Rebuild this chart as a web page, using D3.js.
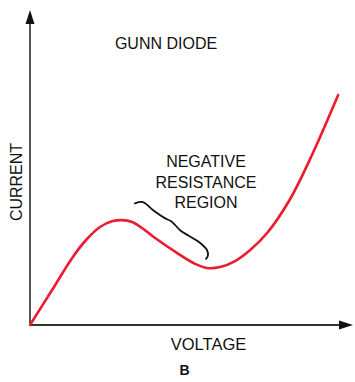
<!DOCTYPE html>
<html>
<head>
<meta charset="utf-8">
<script src="https://cdn.jsdelivr.net/npm/d3@7"></script>
<style>
  html, body { margin: 0; padding: 0; background: #fff; }
  svg { display: block; }
  text { font-family: "Liberation Sans", Arial, Helvetica, sans-serif; fill: #111; }
</style>
</head>
<body>
<svg id="chart" width="355" height="382"></svg>
<script>
// Gunn diode I–V characteristic (arbitrary units)
const voltage = [0, 0.69, 1.34, 1.78, 2.19, 2.56, 2.88, 3.19, 3.50, 3.91, 4.59, 5.16, 5.53, 5.94, 6.41, 6.88, 7.41, 8.13, 8.84, 9.63];
const current = [0, 1.11, 2.16, 2.73, 3.11, 3.29, 3.33, 3.27, 3.08, 2.76, 2.29, 1.94, 1.81, 1.84, 2.03, 2.38, 2.92, 4.00, 5.46, 7.30];

// Bracket marking the negative-resistance span (same units)
const braceV = [3.28, 3.53, 3.84, 4.2, 4.4, 4.53, 4.7, 4.95, 5.3, 5.53, 5.56, 5.5];
const braceI = [3.86, 3.9, 3.65, 3.4, 3.3, 3.18, 3.0, 2.84, 2.62, 2.38, 2.2, 2.1];

const titleText = "GUNN DIODE";
const regionLines = ["NEGATIVE", "RESISTANCE", "REGION"];
const xLabel = "VOLTAGE";
const yLabel = "CURRENT";
const panelLabel = "B";

const svg = d3.select("#chart");
const x = d3.scaleLinear().domain([0, 10]).range([30, 350]);
const y = d3.scaleLinear().domain([0, 10]).range([325, 10]);

// Axes with arrowheads
const axisG = svg.append("g");
axisG.append("line")
  .attr("x1", x(0)).attr("y1", y(0)).attr("x2", x(0)).attr("y2", 22)
  .attr("stroke", "#444").attr("stroke-width", 1.8);
axisG.append("line")
  .attr("x1", x(0)).attr("y1", y(0)).attr("x2", 342).attr("y2", y(0))
  .attr("stroke", "#2f3a2c").attr("stroke-width", 1.8);
axisG.append("path")
  .attr("d", `M${x(0)},10 L${x(0) - 4.5},24 L${x(0) + 4.5},24 Z`)
  .attr("fill", "#111");
axisG.append("path")
  .attr("d", `M353,${y(0)} L339,${y(0) - 4.5} L339,${y(0) + 4.5} Z`)
  .attr("fill", "#111");

// Characteristic curve
const line = d3.line()
  .x((d, i) => x(voltage[i]))
  .y((d, i) => y(current[i]))
  .curve(d3.curveCatmullRom.alpha(0.5));
svg.append("path")
  .datum(voltage)
  .attr("d", line)
  .attr("fill", "none")
  .attr("stroke", "#ec1b2e")
  .attr("stroke-width", 2.6)
  .attr("stroke-linecap", "round");

// Curly bracket
const braceLine = d3.line()
  .x((d, i) => x(braceV[i]))
  .y((d, i) => y(braceI[i]))
  .curve(d3.curveCatmullRom.alpha(0.5));
svg.append("path")
  .datum(braceV)
  .attr("d", braceLine)
  .attr("fill", "none")
  .attr("stroke", "#111")
  .attr("stroke-width", 1.8)
  .attr("stroke-linecap", "round");

// Labels
svg.append("text")
  .attr("x", 166).attr("y", 49)
  .attr("text-anchor", "middle")
  .attr("font-size", 16)
  .text(titleText);

svg.append("g").selectAll("text")
  .data(regionLines)
  .join("text")
  .attr("x", 206)
  .attr("y", (d, i) => 167 + i * 20.5)
  .attr("text-anchor", "middle")
  .attr("font-size", 16)
  .text(d => d);

svg.append("text")
  .attr("x", 208.5).attr("y", 350)
  .attr("text-anchor", "middle")
  .attr("font-size", 16.5)
  .text(xLabel);

svg.append("text")
  .attr("transform", "translate(22,182) rotate(-90)")
  .attr("text-anchor", "middle")
  .attr("font-size", 16)
  .text(yLabel);

svg.append("text")
  .attr("x", 184.5).attr("y", 375)
  .attr("text-anchor", "middle")
  .attr("font-size", 14)
  .attr("font-weight", "bold")
  .text(panelLabel);
</script>
</body>
</html>
